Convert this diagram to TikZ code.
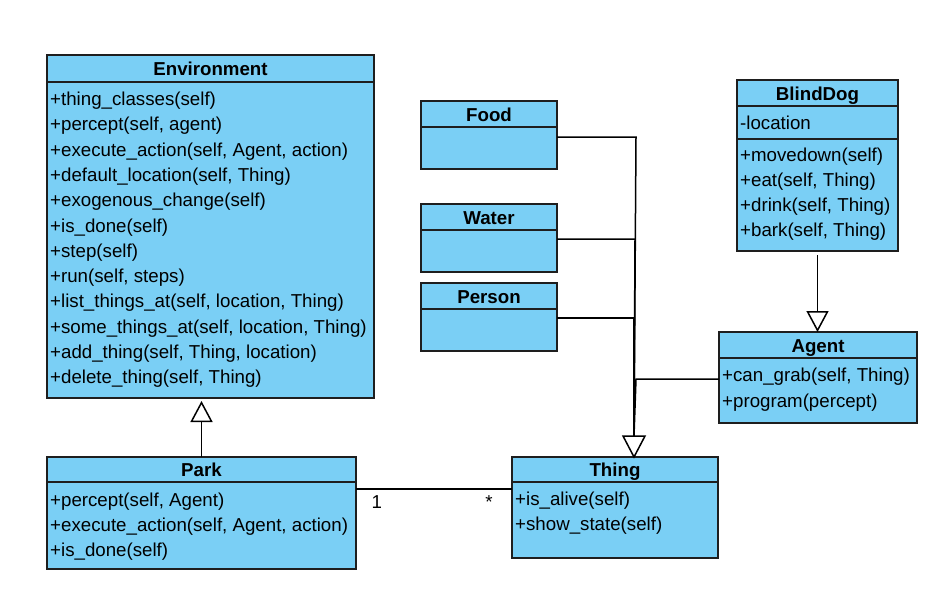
\documentclass[tikz,border=0pt]{standalone}
\usepackage{fontspec}
\setmainfont{Liberation Sans}
\usetikzlibrary{arrows.meta,calc}
\definecolor{clsblue}{RGB}{122,207,245}
\definecolor{edge}{RGB}{30,30,30}
\begin{document}
\begin{tikzpicture}[x=1pt,y=-1pt,
  box/.style 2 args={draw=edge,fill=clsblue,line width=1.4pt,anchor=north west,
     inner sep=0pt,outer sep=0pt,minimum width=#1 pt,minimum height=#2 pt},
  sep/.style={draw=edge,line width=1.4pt},
  hdr/.style={anchor=base,inner sep=0pt,font=\fontsize{18.7}{22}\selectfont\bfseries},
  itm/.style={anchor=base west,inner sep=0pt,font=\fontsize{18.7}{22}\selectfont},
  conn/.style={draw=black,line width=1.5pt},
  gen/.style={conn,-{Triangle[length=21pt,width=22pt,fill=white]}}
]
\useasboundingbox (0,0) rectangle (925,610);

% Environment
\node[box={327}{343}] (env) at (47,55) {};
\draw[sep] (47,82) -- (374,82);
\node[hdr] (envh) at (210.5,75) {Environment};
\foreach \t [count=\i from 0] in {+thing\_classes(self),+percept(self{,} agent),+execute\_action(self{,} Agent{,} action),+default\_location(self{,} Thing),+exogenous\_change(self),+is\_done(self),+step(self),+run(self{,} steps),+list\_things\_at(self{,} location{,} Thing),+some\_things\_at(self{,} location{,} Thing),+add\_thing(self{,} Thing{,} location),+delete\_thing(self{,} Thing)}
  \node[itm] (env\i) at (50,105.5+25.3*\i) {\t};

% Park
\node[box={309}{112}] (park) at (47,457) {};
\draw[sep] (47,482) -- (356,482);
\node[hdr] (parkh) at (201.5,476.5) {Park};
\node[itm] (park0) at (50,506) {+percept(self, Agent)};
\node[itm] (park1) at (50,531.3) {+execute\_action(self, Agent, action)};
\node[itm] (park2) at (50,556.6) {+is\_done(self)};

% Thing
\node[box={206}{101}] (thing) at (512,457) {};
\draw[sep] (512,482) -- (718,482);
\node[hdr] (thingh) at (615,476.5) {Thing};
\node[itm] (thing0) at (515,505.5) {+is\_alive(self)};
\node[itm] (thing1) at (515,530.8) {+show\_state(self)};

% Food, Water, Person
\node[box={136}{68}] (food) at (421,101) {};
\draw[sep] (421,127) -- (557,127);
\node[hdr] (foodh) at (489,121.5) {Food};
\node[box={136}{68}] (water) at (421,204) {};
\draw[sep] (421,230) -- (557,230);
\node[hdr] (waterh) at (489,224.5) {Water};
\node[box={136}{68}] (person) at (421,283) {};
\draw[sep] (421,309) -- (557,309);
\node[hdr] (personh) at (489,303.5) {Person};

% BlindDog
\node[box={161}{171}] (blind) at (737,80) {};
\draw[sep] (737,106) -- (898,106);
\draw[sep] (737,139) -- (898,139);
\node[hdr] (blindh) at (817.5,100.5) {BlindDog};
\node[itm] (blinda) at (740,129.5) {-location};
\node[itm] (blind0) at (740,161.8) {+movedown(self)};
\node[itm] (blind1) at (740,186.8) {+eat(self, Thing)};
\node[itm] (blind2) at (740,211.8) {+drink(self, Thing)};
\node[itm] (blind3) at (740,236.8) {+bark(self, Thing)};

% Agent
\node[box={198}{91}] (agent) at (719,332) {};
\draw[sep] (719,358) -- (917,358);
\node[hdr] (agenth) at (818,352.5) {Agent};
\node[itm] (agent0) at (722,381.7) {+can\_grab(self, Thing)};
\node[itm] (agent1) at (722,407.2) {+program(percept)};

% Generalisations
\coordinate (envb) at ($(park.north |- env.south)+(0,3)$);
\draw[gen] (park.north) -- (envb);
\coordinate (blindb) at ($(blind.south)+(0,4)$);
\draw[gen] (blindb) -- (blindb |- agent.north);

\coordinate (gtop) at (634,436);
\coordinate (gtip) at (634,457);
\coordinate (bf) at (636,137);
\coordinate (bw) at (635,239);
\coordinate (bp) at (634,318);
\coordinate (ba) at (636,379);
\draw[conn] (food.east |- bf) -- (bf) -- (gtop);
\draw[conn] (water.east |- bw) -- (bw) -- (gtop);
\draw[conn] (person.east |- bp) -- (bp) -- (gtop);
\draw[conn] (agent.west |- ba) -- (ba) -- (gtop);
\draw[conn,fill=white,line join=miter] (623,436) -- (645,436) -- (gtip) -- cycle;

% Association Park - Thing
\coordinate (asl) at (park.east |- 0,489);
\coordinate (asr) at (thing.west |- 0,489);
\draw[conn] (asl) -- (asr);
\node[itm,anchor=base] (m1) at (376.7,508) {1};
\node[itm,anchor=base] (m2) at (489,508) {*};
\end{tikzpicture}
\end{document}
